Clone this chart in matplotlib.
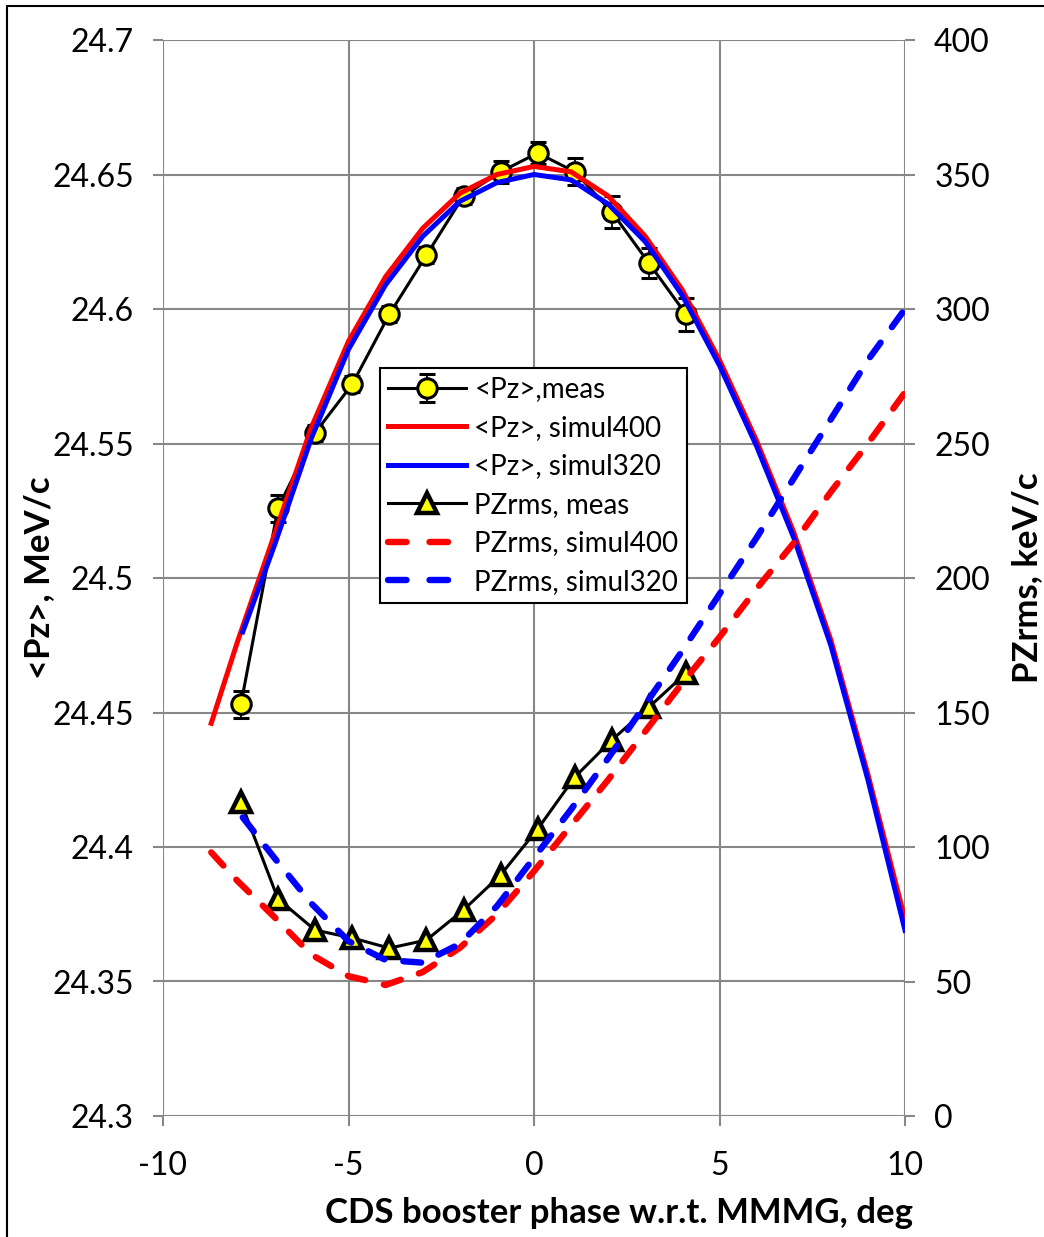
import numpy as np
import matplotlib.pyplot as plt
from matplotlib.patches import Rectangle
from matplotlib.lines import Line2D

# measured points
x_meas = [-7.9, -6.9, -5.9, -4.9, -3.9, -2.9, -1.9, -0.9, 0.1, 1.1, 2.1, 3.1, 4.1]
pz_meas = [24.453, 24.526, 24.554, 24.572, 24.598, 24.620, 24.642, 24.651, 24.658,
           24.651, 24.636, 24.617, 24.598]
pz_err = [0.005, 0.005, 0.003, 0.003, 0.003, 0.003, 0.003, 0.004, 0.004,
          0.005, 0.006, 0.0055, 0.006]
pzrms_meas = [116.7, 80.7, 69.1, 66.2, 62.4, 65.4, 76.6, 89.6, 106.7, 126.0,
              139.8, 152.0, 164.7]

# simulations
x_s400 = [-8.7, -8, -7, -6, -5, -4, -3, -2, -1, 0, 1, 2, 3, 4, 5, 6, 7, 8, 9, 10]
pz_s400 = [24.446, 24.476, 24.516, 24.556, 24.588, 24.612, 24.630, 24.643, 24.650,
           24.653, 24.651, 24.642, 24.627, 24.607, 24.581, 24.551, 24.517, 24.477,
           24.427, 24.373]
rms_s400 = [98, 87.5, 74, 60, 52, 48.7, 53.5, 62.5, 75, 91, 108, 125, 143, 161,
            178, 196, 213, 232, 250, 269]

x_s320 = [-7.85, -7, -6, -5, -4, -3, -2, -1, 0, 1, 2, 3, 4, 5, 6, 7, 8, 9, 10]
pz_s320 = [24.480, 24.512, 24.552, 24.585, 24.609, 24.627, 24.640, 24.647, 24.650,
           24.648, 24.639, 24.625, 24.605, 24.579, 24.549, 24.515, 24.475, 24.425,
           24.369]
rms_s320 = [111, 96, 79, 65, 58, 57, 64, 78, 96, 114, 133, 153, 173, 194, 215,
            237, 259, 281, 300]

plt.rcParams['font.family'] = ['Lato', 'DejaVu Sans']
plt.rcParams['axes.unicode_minus'] = False

fig = plt.figure(figsize=(10.44, 12.37), dpi=100)
ax = fig.add_axes([163/1044, 1-1116/1237, (905-163)/1044, (1116-40)/1237])
ax2 = ax.twinx()

grid_c = '#878787'
l1 = ax.errorbar(x_meas, pz_meas, yerr=pz_err, color='black', lw=2.2, marker='o',
                 ms=14, mfc='yellow', mec='black', mew=2.2, ecolor='black',
                 elinewidth=1.3, capsize=6, capthick=1.3, label='<Pz>,meas', zorder=3)
l2, = ax.plot(x_s400, pz_s400, color='red', lw=3.6, label='<Pz>, simul400', zorder=4)
l3, = ax.plot(x_s320, pz_s320, color='blue', lw=3.6, label='<Pz>, simul320', zorder=5)

l4, = ax2.plot(x_meas, pzrms_meas, color='black', lw=2.2, marker='^', ms=15,
               mfc='yellow', mec='black', mew=3.2, label='PZrms, meas', zorder=3)
ax2.plot(x_s400, rms_s400, color='red', lw=4.6, ls=(0, (2.8, 3.0)),
         dash_capstyle='round', zorder=4)
ax2.plot(x_s320, rms_s320, color='blue', lw=4.6, ls=(0, (2.8, 3.0)),
         dash_capstyle='round', zorder=5)

# legend proxies for the dashed curves (two dashes per handle)
l5 = Line2D([], [], color='red', lw=4.6, ls=(0, (2.9, 3.6)), dash_capstyle='round',
            label='PZrms, simul400')
l6 = Line2D([], [], color='blue', lw=4.6, ls=(0, (2.9, 3.6)), dash_capstyle='round',
            label='PZrms, simul320')

ax.set_xlim(-10, 10)
ax.set_ylim(24.3, 24.7)
ax2.set_ylim(0, 400)
ax.set_xticks([-10, -5, 0, 5, 10])
ax.set_yticks(np.arange(24.3, 24.701, 0.05))
ax.set_yticklabels(['24.3', '24.35', '24.4', '24.45', '24.5', '24.55', '24.6',
                    '24.65', '24.7'])
ax2.set_yticks(np.arange(0, 401, 50))

ax.grid(True, color=grid_c, lw=1.5)
for a in (ax, ax2):
    for s in a.spines.values():
        s.set_visible(False)
    a.tick_params(axis='both', length=7, width=1.5, color=grid_c, labelsize=23,
                  pad=14)
ax.tick_params(axis='x', pad=18)
ax.set_axisbelow(True)

ax.set_xlabel('CDS booster phase w.r.t. MMMG, deg', fontsize=25, fontweight='bold',
              labelpad=12, x=0.615)
ax.set_ylabel('<Pz>, MeV/c', fontsize=25, fontweight='bold')
ax2.set_ylabel('PZrms, keV/c', fontsize=25, fontweight='bold')
ax.yaxis.set_label_coords(-0.145, 0.5)
ax2.yaxis.set_label_coords(1.143, 0.5)

handles = [l1, l2, l3, l4, l5, l6]
leg = ax2.legend(handles, [h.get_label() for h in handles],
                 loc='upper left', bbox_to_anchor=(380/1044, 1-368/1237),
                 bbox_transform=fig.transFigure, fontsize=20, frameon=True,
                 fancybox=False, framealpha=1, edgecolor='black',
                 handlelength=2.8, handletextpad=0.3, labelspacing=0.45,
                 borderpad=0.3, borderaxespad=0)
leg.get_frame().set_linewidth(1.5)

fig.patches.append(Rectangle((7/1044, -0.01), 1.02, 1-6/1237 + 0.01,
                             transform=fig.transFigure, fill=False,
                             edgecolor='black', lw=1.5))

plt.savefig('out.png', dpi=100)
